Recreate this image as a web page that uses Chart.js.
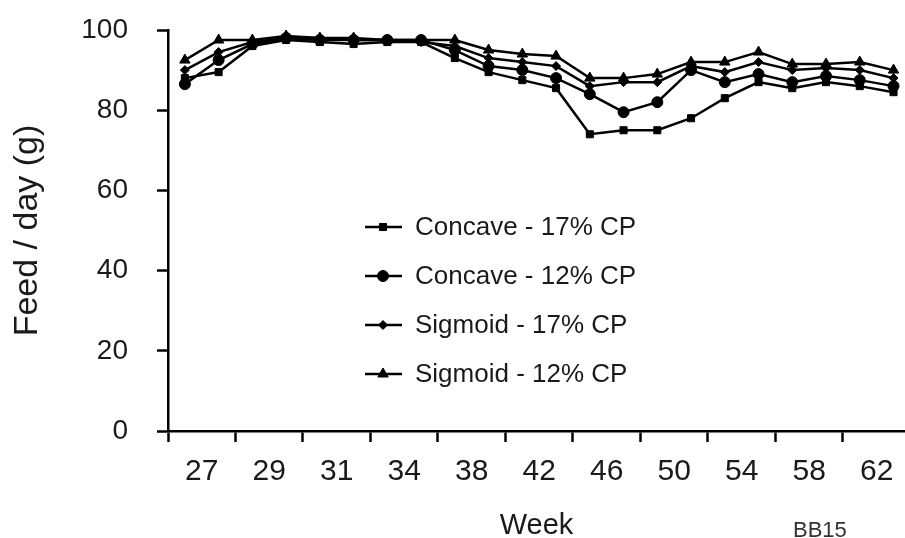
<!DOCTYPE html>
<html>
<head>
<meta charset="utf-8">
<script src="https://cdn.jsdelivr.net/npm/chart.js@4/dist/chart.umd.min.js"></script>
<style>
  html, body { margin: 0; padding: 0; background: #fff; }
  #wrap { width: 905px; height: 538px; }
</style>
</head>
<body>
<div id="wrap"><canvas id="feedChart" width="905" height="538"></canvas></div>
<script>
// week labels sit in the middle of each tick interval, two readings per interval
const weekLabels = ['27', '29', '31', '34', '38', '42', '46', '50', '54', '58', '62']

const concave17 = [88, 89.5, 96, 97.5, 97, 96.5, 97, 97, 93, 89.5, 87.5, 85.5, 74, 75, 75, 78, 83, 87, 85.5, 87, 86, 84.5]
const concave12 = [86.5, 92.5, 96.5, 98, 97.5, 97.5, 97.5, 97.5, 95, 91, 90, 88, 84, 79.5, 82, 90, 87, 89, 87, 88.5, 87.5, 86]
const sigmoid17 = [90, 94.5, 97, 98, 98, 97.5, 97.5, 97, 96, 93, 92, 91, 86, 87, 87, 91, 89.5, 92, 90, 90.5, 90, 88]
const sigmoid12 = [92.5, 97.5, 97.5, 98.5, 98, 98, 97.5, 97.5, 97.5, 95, 94, 93.5, 88, 88, 89, 92, 92, 94.5, 91.5, 91.5, 92, 90]

const yTicks = [0, 20, 40, 60, 80, 100]

const FONT = '"Liberation Sans", Arial, Helvetica, sans-serif'
const INK = '#1a1a1a'

const toPoints = (vals) => vals.map((v, i) => ({ x: i + 0.5, y: v }))

const series = (label, vals, style, radius) => ({
  label,
  data: toPoints(vals),
  borderColor: '#000',
  backgroundColor: '#000',
  borderWidth: 2.5,
  pointStyle: style,
  pointRadius: radius,
  pointBorderWidth: 1,
  fill: false,
  tension: 0
})

const insideLegend = {
  id: 'insideLegend',
  afterDraw(chart) {
    const ctx = chart.ctx
    ctx.save()
    ctx.font = '26px ' + FONT
    ctx.textBaseline = 'middle'
    chart.data.datasets.forEach((ds, i) => {
      const y = 227 + i * 49
      ctx.strokeStyle = '#000'
      ctx.fillStyle = '#000'
      ctx.lineWidth = 2.5
      ctx.beginPath()
      ctx.moveTo(365, y)
      ctx.lineTo(402, y)
      ctx.stroke()
      ctx.lineWidth = 1
      Chart.helpers.drawPoint(ctx, { pointStyle: ds.pointStyle, radius: ds.pointRadius, borderWidth: 1 }, 383, y)
      ctx.fillStyle = INK
      ctx.fillText(ds.label, 415, y + 1)
    })
    ctx.font = '22px ' + FONT
    ctx.fillStyle = '#333'
    ctx.textBaseline = 'alphabetic'
    ctx.fillText('BB15', 793, 537)
    ctx.restore()
  }
}

const ctx = document.getElementById('feedChart').getContext('2d')

new Chart(ctx, {
  type: 'line',
  data: {
    datasets: [
      series('Concave - 17% CP', concave17, 'rect', 5),
      series('Concave - 12% CP', concave12, 'circle', 5.5),
      series('Sigmoid - 17% CP', sigmoid17, 'rectRot', 4.5),
      series('Sigmoid - 12% CP', sigmoid12, 'triangle', 6)
    ]
  },
  options: {
    responsive: false,
    animation: false,
    devicePixelRatio: 1,
    layout: { autoPadding: false, padding: { top: 30, left: 0, right: 0, bottom: 0 } },
    plugins: {
      legend: { display: false },
      tooltip: { enabled: false }
    },
    scales: {
      x: {
        type: 'linear',
        min: 0,
        max: 21.84,
        afterBuildTicks: (s) => {
          s.ticks = Array.from({ length: 22 }, (_, i) => ({ value: i }))
        },
        afterFit: (s) => {
          s.height = 107
          s.paddingLeft = 0
          s.paddingRight = 0
        },
        border: { color: '#000', width: 2.5 },
        grid: {
          drawOnChartArea: false,
          drawTicks: true,
          tickLength: 11,
          tickWidth: 2.5,
          tickColor: (c) => (c.tick && c.tick.value % 2 === 0 ? '#000' : 'rgba(0,0,0,0)')
        },
        ticks: {
          autoSkip: false,
          maxRotation: 0,
          padding: 12,
          color: INK,
          font: { family: FONT, size: 30 },
          callback: (v) => (v % 2 === 1 ? weekLabels[(v - 1) / 2] : '')
        },
        title: {
          display: true,
          text: 'Week',
          color: INK,
          font: { family: FONT, size: 29 },
          padding: { top: 0, bottom: -5 }
        }
      },
      y: {
        min: 0,
        max: 100,
        afterBuildTicks: (s) => {
          s.ticks = yTicks.map(v => ({ value: v }))
        },
        afterFit: (s) => {
          s.width = 168
          s.paddingTop = 0
          s.paddingBottom = 0
        },
        border: { color: '#000', width: 2.5 },
        grid: {
          drawOnChartArea: false,
          drawTicks: true,
          tickLength: 11,
          tickWidth: 2.5,
          tickColor: '#000'
        },
        ticks: {
          padding: 29,
          color: INK,
          font: { family: FONT, size: 28 }
        },
        title: {
          display: true,
          text: 'Feed / day (g)',
          color: INK,
          font: { family: FONT, size: 34 },
          padding: { top: 7, bottom: 0 }
        }
      }
    }
  },
  plugins: [insideLegend]
})
</script>
</body>
</html>
